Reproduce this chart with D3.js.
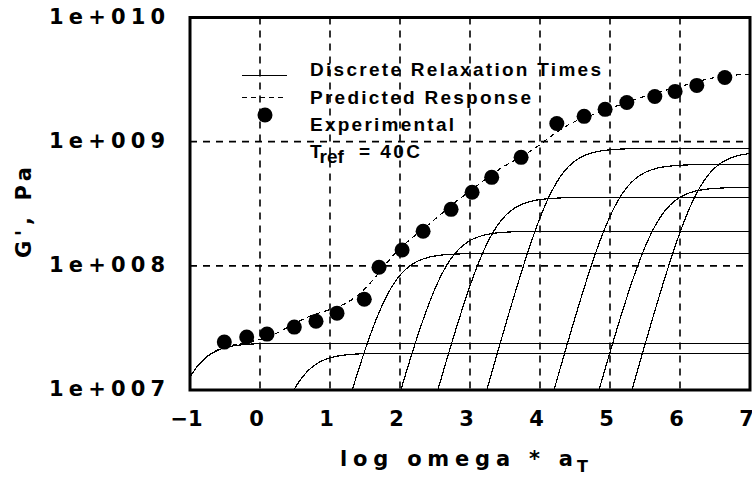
<!DOCTYPE html>
<html>
<head>
<meta charset="utf-8">
<script src="https://cdn.jsdelivr.net/npm/d3@7"></script>
<style>
    body { margin: 0; background: #fff; }
    svg text { fill: #000; }
    .axis-label { font-family: "DejaVu Sans", sans-serif; font-weight: bold; font-size: 21px; }
    .legend-label { font-family: "Liberation Sans", Arial, sans-serif; font-weight: bold; font-size: 19px; }
</style>
</head>
<body>
<div id="chart"></div>
<script>

// experimental storage modulus, x = log(omega * aT), y = G' (Pa)
let expLogOmega = [-0.51, -0.19, 0.10, 0.49, 0.80, 1.10, 1.49, 1.70, 2.03, 2.33, 2.73,
    3.03, 3.31, 3.73, 4.24, 4.63, 4.93, 5.24, 5.64, 5.93, 6.24, 6.64];
let expG = [2.43e7, 2.67e7, 2.82e7, 3.21e7, 3.58e7, 4.16e7, 5.38e7, 9.75e7, 1.34e8, 1.90e8, 2.85e8,
    3.91e8, 5.16e8, 7.48e8, 1.40e9, 1.60e9, 1.82e9, 2.07e9, 2.31e9, 2.54e9, 2.84e9, 3.29e9];

// discrete relaxation times (plateau modulus and log tau of each Maxwell element)
let modeG = [2.38e7, 1.98e7, 1.26e8, 1.90e8, 3.56e8, 8.83e8, 6.56e8, 4.29e8, 8.3e8];
let modeLogTau = [1.03, -0.48, -1.85, -2.64, -3.31, -4.21, -5.105, -5.654, -6.27];

// axes
let xTicks = [-1, 0, 1, 2, 3, 4, 5, 6, 7];
let xTickLabels = ["\u22121", "0", "1", "2", "3", "4", "5", "6", "7"];
let yTicks = [1e7, 1e8, 1e9, 1e10];
let yTickLabels = ["1e+007", "1e+008", "1e+009", "1e+010"];
let xGrid = [0, 1, 2, 3, 4, 5, 6];
let yGrid = [1e8, 1e9];

let legendLabels = ["Discrete Relaxation Times", "Predicted Response", "Experimental"];


class ModulusVis {

    constructor(parentElement) {
        this.parentElement = parentElement;
        this.initVis();
    }

    initVis() {
        let vis = this;

        vis.margin = {top: 17.5, right: 2, bottom: 90, left: 190};
        vis.width = 752 - vis.margin.left - vis.margin.right;
        vis.height = 480 - vis.margin.top - vis.margin.bottom;

        vis.svg = d3.select("#" + vis.parentElement).append("svg")
            .attr("width", 752)
            .attr("height", 480)
            .append("g")
            .attr("transform", `translate(${vis.margin.left}, ${vis.margin.top})`);

        vis.svg.append("clipPath")
            .attr("id", "plot-clip")
            .append("rect")
            .attr("width", vis.width)
            .attr("height", vis.height);

        vis.x = d3.scaleLinear().domain([-1, 7]).range([0, vis.width]);
        vis.y = d3.scaleLog().domain([1e7, 1e10]).range([vis.height, 0]);

        vis.wrangleData();
    }

    // G' of one Maxwell element
    modeValue(i, lw) {
        let wt2 = Math.pow(10, 2 * (lw + modeLogTau[i]));
        return modeG[i] * wt2 / (1 + wt2);
    }

    wrangleData() {
        let vis = this;

        let grid = d3.range(-1, 7.0001, 0.01);

        vis.modeCurves = modeG.map((g, i) =>
            grid.map(lw => ({lw: lw, g: vis.modeValue(i, lw)})).filter(d => d.g > 1e5));

        vis.predicted = grid.map(lw => ({lw: lw, g: d3.sum(modeG, (g, i) => vis.modeValue(i, lw))}));

        vis.points = expLogOmega.map((lw, i) => ({lw: lw, g: expG[i]}));

        vis.updateVis();
    }

    updateVis() {
        let vis = this;

        // dashed grid
        vis.svg.selectAll(".vgrid").data(xGrid).enter().append("line")
            .attr("class", "vgrid")
            .attr("x1", d => vis.x(d)).attr("x2", d => vis.x(d))
            .attr("y1", 0).attr("y2", vis.height)
            .attr("stroke", "#000").attr("stroke-width", 1.6)
            .attr("stroke-dasharray", "7,6");

        vis.svg.selectAll(".hgrid").data(yGrid).enter().append("line")
            .attr("class", "hgrid")
            .attr("x1", 0).attr("x2", vis.width)
            .attr("y1", d => vis.y(d)).attr("y2", d => vis.y(d))
            .attr("stroke", "#000").attr("stroke-width", 1.6)
            .attr("stroke-dasharray", "7,6");

        let line = d3.line()
            .x(d => vis.x(d.lw))
            .y(d => vis.y(d.g));

        let plot = vis.svg.append("g").attr("clip-path", "url(#plot-clip)");

        plot.selectAll(".mode").data(vis.modeCurves).enter().append("path")
            .attr("class", "mode")
            .attr("d", line)
            .attr("fill", "none")
            .attr("stroke", "#000")
            .attr("stroke-width", 1.2)
            .attr("shape-rendering", "crispEdges");

        plot.append("path")
            .datum(vis.predicted)
            .attr("d", line)
            .attr("fill", "none")
            .attr("stroke", "#000")
            .attr("stroke-width", 1.2)
            .attr("stroke-dasharray", "5,4")
            .attr("shape-rendering", "crispEdges");

        plot.selectAll(".dot").data(vis.points).enter().append("circle")
            .attr("class", "dot")
            .attr("cx", d => vis.x(d.lw))
            .attr("cy", d => vis.y(d.g))
            .attr("r", 7.5)
            .attr("fill", "#000");

        // frame
        vis.svg.append("rect")
            .attr("width", vis.width)
            .attr("height", vis.height)
            .attr("fill", "none")
            .attr("stroke", "#000")
            .attr("stroke-width", 3);

        // axes
        let xAxis = d3.axisBottom(vis.x)
            .tickValues(xTicks)
            .tickFormat((d, i) => xTickLabels[i])
            .tickSize(0)
            .tickPadding(21);

        let yAxis = d3.axisLeft(vis.y)
            .tickValues(yTicks)
            .tickFormat((d, i) => yTickLabels[i])
            .tickSize(0)
            .tickPadding(25);

        let gx = vis.svg.append("g")
            .attr("transform", `translate(0, ${vis.height})`)
            .call(xAxis);
        gx.select(".domain").remove();
        gx.selectAll("text")
            .attr("class", "axis-label")
            .attr("dx", -4);

        let gy = vis.svg.append("g").call(yAxis);
        gy.select(".domain").remove();
        gy.selectAll("text")
            .attr("class", "axis-label")
            .attr("dy", "0.28em")
            .attr("textLength", 116)
            .attr("lengthAdjust", "spacing");

        // axis titles
        let xTitle = vis.svg.append("text")
            .attr("class", "axis-label")
            .attr("x", 150)
            .attr("y", 448.5);
        xTitle.append("tspan")
            .attr("textLength", 233)
            .attr("lengthAdjust", "spacing")
            .text("log omega * a");
        xTitle.append("tspan")
            .attr("x", 387)
            .attr("dy", 6)
            .style("font-size", "16px")
            .text("T");

        vis.svg.append("text")
            .attr("class", "axis-label")
            .attr("transform", `translate(${31 - vis.margin.left}, ${258 - vis.margin.top}) rotate(-90)`)
            .attr("textLength", 91)
            .attr("lengthAdjust", "spacing")
            .text("G', Pa");

        // legend
        let legend = vis.svg.append("g")
            .attr("transform", `translate(${-vis.margin.left}, ${-vis.margin.top})`);

        let legendLengths = [291, 221, 144];
        legend.selectAll(".legend-label").data(legendLabels).enter().append("text")
            .attr("class", "legend-label")
            .attr("x", 310)
            .attr("y", (d, i) => 76 + i * 27.5)
            .attr("textLength", (d, i) => legendLengths[i])
            .attr("lengthAdjust", "spacing")
            .text(d => d);

        legend.append("line")
            .attr("x1", 242).attr("x2", 287).attr("y1", 75.5).attr("y2", 75.5)
            .attr("stroke", "#000").attr("stroke-width", 1.2);
        legend.append("line")
            .attr("x1", 242).attr("x2", 287).attr("y1", 97.5).attr("y2", 97.5)
            .attr("stroke", "#000").attr("stroke-width", 1.2)
            .attr("stroke-dasharray", "5,4");
        legend.append("circle")
            .attr("cx", 265).attr("cy", 115).attr("r", 7.5)
            .attr("fill", "#000");

        let tref = legend.append("text")
            .attr("class", "legend-label")
            .attr("x", 310)
            .attr("y", 158);
        tref.append("tspan").text("T");
        tref.append("tspan").attr("dy", 5).attr("dx", -1).text("ref");
        tref.append("tspan").attr("x", 359).attr("dy", -5)
            .attr("textLength", 61).attr("lengthAdjust", "spacing")
            .text("= 40C");
    }
}

new ModulusVis("chart");

</script>
</body>
</html>
